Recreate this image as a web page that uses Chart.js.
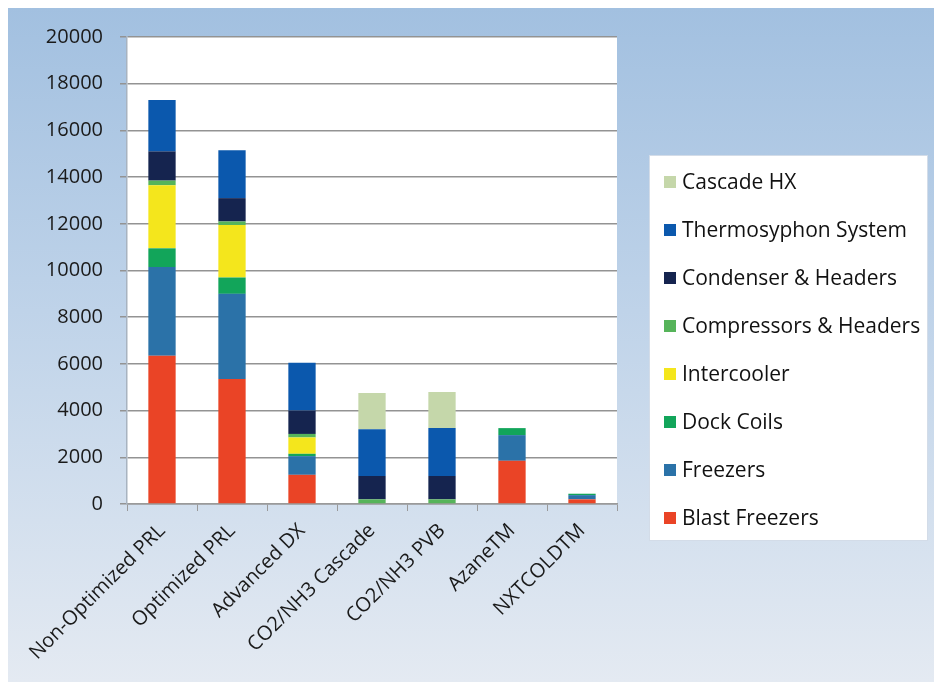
<!DOCTYPE html>
<html>
<head>
<meta charset="utf-8">
<script src="https://cdn.jsdelivr.net/npm/chart.js@4/dist/chart.umd.min.js"></script>
<style>
  html, body { margin: 0; padding: 0; background: #ffffff; }
  #wrap { position: absolute; left: 8px; top: 8px; width: 926px; height: 674px; }
</style>
</head>
<body>
<div id="wrap"><canvas id="c" width="926" height="674"></canvas></div>
<script>
// Refrigeration system cost components per design (stacked, bottom to top)
const categories = ['Non-Optimized PRL', 'Optimized PRL', 'Advanced DX', 'CO2/NH3 Cascade', 'CO2/NH3 PVB', 'AzaneTM', 'NXTCOLDTM'];
const blastFreezers   = [6350, 5350, 1250, 0, 0, 1850, 200];
const freezers        = [3800, 3650, 800, 0, 0, 1100, 180];
const dockCoils       = [800, 700, 100, 0, 0, 300, 60];
const intercooler     = [2700, 2250, 700, 0, 0, 0, 0];
const compressors     = [200, 150, 150, 200, 200, 0, 0];
const condenser       = [1250, 1000, 1000, 1000, 1000, 0, 0];
const thermosyphon    = [2200, 2050, 2050, 2000, 2050, 0, 0];
const cascadeHX       = [0, 0, 0, 1550, 1550, 0, 0];
const yTicks          = [0, 2000, 4000, 6000, 8000, 10000, 12000, 14000, 16000, 18000, 20000];

const seriesList = [
  { label: 'Blast Freezers',        data: blastFreezers, color: '#ea4426' },
  { label: 'Freezers',              data: freezers,      color: '#2b72a8' },
  { label: 'Dock Coils',            data: dockCoils,     color: '#12a55a' },
  { label: 'Intercooler',           data: intercooler,   color: '#f4e61c' },
  { label: 'Compressors & Headers', data: compressors,   color: '#56b45a' },
  { label: 'Condenser & Headers',   data: condenser,     color: '#15244f' },
  { label: 'Thermosyphon System',   data: thermosyphon,  color: '#0b58ad' },
  { label: 'Cascade HX',            data: cascadeHX,     color: '#c5d7aa' }
];

const FONT = "'Open Sans', sans-serif";

// Page gradient and white plot area
const backdrop = {
  id: 'backdrop',
  beforeDraw(chart) {
    const { ctx, width, height, chartArea } = chart;
    ctx.save();
    const g = ctx.createLinearGradient(0, 0, 0, height);
    g.addColorStop(0, '#a2c0e0');
    g.addColorStop(0.45, '#bfd3e9');
    g.addColorStop(1, '#e4eaf2');
    ctx.fillStyle = g;
    ctx.fillRect(0, 0, width, height);
    ctx.fillStyle = '#ffffff';
    ctx.fillRect(chartArea.left, chartArea.top, chartArea.right - chartArea.left, chartArea.bottom - chartArea.top);
    ctx.restore();
  }
};

// Legend panel on the right, listing the series top of stack first
const sideLegend = {
  id: 'sideLegend',
  afterDraw(chart, args, opts) {
    const { ctx } = chart;
    const items = chart.data.datasets.map(d => ({ text: d.label, color: d.backgroundColor })).reverse();
    ctx.save();
    ctx.fillStyle = '#ffffff';
    ctx.fillRect(opts.x, opts.y, opts.w, opts.h);
    ctx.strokeStyle = '#d3dce8';
    ctx.lineWidth = 1;
    ctx.strokeRect(opts.x + 0.5, opts.y + 0.5, opts.w - 1, opts.h - 1);
    ctx.font = `21px ${FONT}`;
    ctx.textBaseline = 'middle';
    ctx.textAlign = 'left';
    items.forEach((it, i) => {
      const cy = opts.firstY + i * opts.step;
      ctx.fillStyle = it.color;
      ctx.fillRect(opts.x + 15, cy - 6, 12, 12);
      ctx.fillStyle = '#111111';
      ctx.fillText(it.text, opts.x + 33, cy + 1);
    });
    ctx.restore();
  }
};

new Chart(document.getElementById('c'), {
  type: 'bar',
  data: {
    labels: categories,
    datasets: seriesList.map(s => ({
      label: s.label,
      data: s.data,
      backgroundColor: s.color,
      borderWidth: 0,
      barPercentage: 0.39,
      categoryPercentage: 1.0
    }))
  },
  options: {
    responsive: false,
    animation: false,
    layout: { padding: { left: 0, right: 317, top: 17, bottom: 7 } },
    plugins: {
      legend: { display: false },
      tooltip: { enabled: false },
      sideLegend: { x: 641, y: 147, w: 279, h: 386, firstY: 174, step: 48 }
    },
    scales: {
      x: {
        stacked: true,
        grid: { display: true, drawOnChartArea: false, drawTicks: true, tickLength: 7, color: '#9a9a9a', offset: true },
        border: { display: true, color: '#9a9a9a', width: 1.5 },
        ticks: {
          font: { family: FONT, size: 20 },
          color: '#1a1a1a',
          minRotation: 45,
          maxRotation: 45,
          padding: 8
        },
        afterFit(s) { s.height = 171; }
      },
      y: {
        stacked: true,
        min: 0,
        max: 20000,
        afterBuildTicks(s) { s.ticks = yTicks.map(v => ({ value: v })); },
        grid: { color: '#939393', lineWidth: 1.5, tickLength: 7 },
        border: { display: true, color: '#a8b3c0', width: 1.5 },
        ticks: {
          font: { family: FONT, size: 20 },
          color: '#1a1a1a',
          padding: 17,
          callback: v => String(v)
        },
        afterFit(s) { s.width = 119; }
      }
    }
  },
  plugins: [backdrop, sideLegend]
});
</script>
</body>
</html>
